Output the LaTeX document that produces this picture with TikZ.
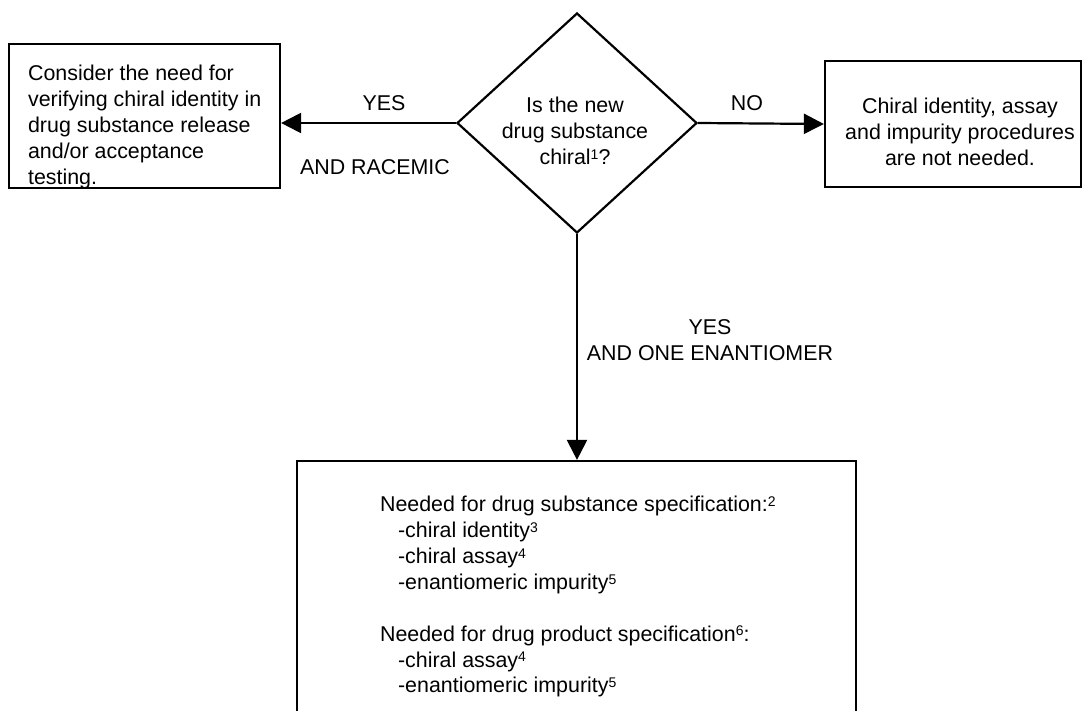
\documentclass[tikz,border=0pt]{standalone}
\usepackage{fontspec}
\setmainfont{Liberation Sans}
\usetikzlibrary{positioning,shapes.geometric,arrows.meta}
\newcommand{\chiralnote}[1]{\raisebox{2.6pt}{\fontsize{7pt}{7pt}\selectfont #1}}

\begin{document}
\begin{tikzpicture}[x=0.5pt,y=-0.5pt,>={Triangle[length=10pt,width=10pt]},line width=1.1pt,
    box node/.style={rectangle,draw,inner sep=0pt},
    decision node/.style={diamond,draw,inner sep=0pt,minimum width=120pt,minimum height=110pt},
    text node/.style={inner sep=0pt,font=\fontsize{10.7pt}{12.95pt}\selectfont}]
    \useasboundingbox (0,0) rectangle (1083,711);
    % nodes
      \node[decision node] (dia) at (577,123) {};
      \node[box node,minimum width=135.5pt,minimum height=72pt] (rac) at (144.5,116) {};
      \node[box node,minimum width=128pt,minimum height=63pt] (none) at (953,124) {};
      \node[box node,minimum width=279.5pt,minimum height=140pt] (spec) at (576.5,601) {};
    % texts
      \node[text node,align=center,anchor=north] (diatxt) at (575,96)
        {Is the new\\drug substance\\chiral\chiralnote{1}?};
      \node[text node,align=left,anchor=north west] (ractxt) at (27,64)
        {Consider the need for\\verifying chiral identity in\\drug substance release\\and/or acceptance\\testing.};
      \node[text node,align=center,anchor=north] (nonetxt) at (960,97)
        {Chiral identity, assay\\and impurity procedures\\are not needed.};
      \node[text node,align=left,anchor=north west] (spectxt) at (379,495)
        {Needed for drug substance specification:\chiralnote{2}\\
         \hspace*{9pt}-chiral identity\chiralnote{3}\\
         \hspace*{9pt}-chiral assay\chiralnote{4}\\
         \hspace*{9pt}-enantiomeric impurity\chiralnote{5}\\[12.95pt]
         Needed for drug product specification\chiralnote{6}:\\
         \hspace*{9pt}-chiral assay\chiralnote{4}\\
         \hspace*{9pt}-enantiomeric impurity\chiralnote{5}};
    % labels
      \node[text node] (yesl) at (384,103) {YES};
      \node[text node] (racl) at (375,167) {AND RACEMIC};
      \node[text node] (nol) at (747,103) {NO};
      \node[text node,align=center] (enl) at (710,340) {YES\\AND ONE ENANTIOMER};
    %edges
      \draw[->] (dia.west) -- (dia.west -| rac.east);
      \draw[->] (dia.east) -- (none.west);
      \draw[->] (dia.south) -- (dia.south |- spec.north);
\end{tikzpicture}
\end{document}
